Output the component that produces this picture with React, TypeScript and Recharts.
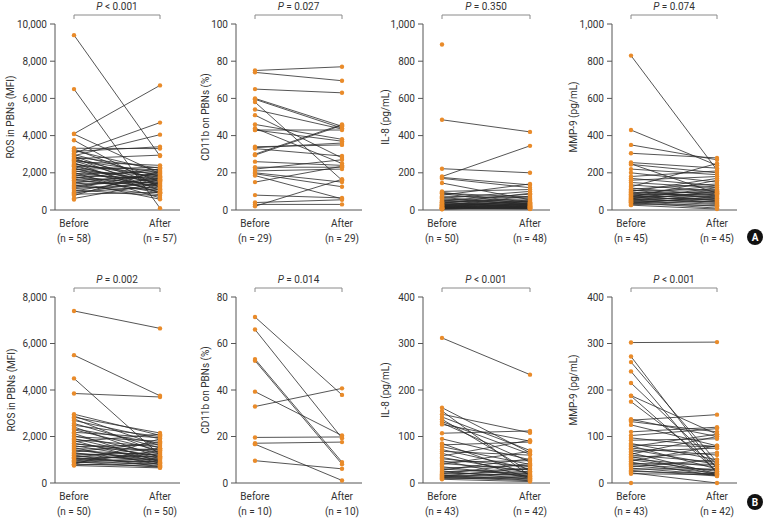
import React from 'react';
import { LineChart, Line, XAxis, YAxis } from 'recharts';

const CATEGORIES = ['Before', 'After'];

// Panel A: ROS
const rosBeforeA = [9400, 6500, 4100, 4080, 3750, 3320, 3280, 3200, 3150, 3050, 2980, 2920, 2880, 2850, 2800, 2760, 2720, 2680, 2640, 2600, 2540, 2480, 2450, 2400, 2350, 2320, 2260, 2200, 2180, 2120, 2080, 2020, 1980, 1930, 1900, 1850, 1800, 1760, 1700, 1660, 1600, 1560, 1500, 1450, 1400, 1340, 1300, 1250, 1200, 1150, 1080, 1020, 960, 900, 850, 780, 620, 560];
const rosAfterA = [2900, 100, 6700, 1950, 1200, 3300, 1500, 2100, 3400, 4700, 1800, 4050, 1350, 2250, 1050, 2950, 1650, 2000, 1300, 2400, 900, 1750, 1900, 1150, 2150, 1450, 950, 1600, 2300, 1250, 1850, 650, 1550, 2050, 1100, 1700, 900, 1400, 2200, 1000, 1800, 1300, 580, 1950, 1500, 820, 1650, 1100, 2000, 1400, 760, 1750, 1250, 1600, 950, 2100, 1450, null];

// Panel A: CD11b
const cd11bBeforeA = [75, 74, 65, 60, 59.5, 58, 54, 51, 46, 44, 43, 43, 34, 33.5, 33, 30, 29.5, 26, 23, 22, 21, 20, 19.5, 18.5, 15, 8, 4, 3, 2];
const cd11bAfterA = [77, 69.5, 63, 45, 44, 16, 43.5, 28, 38, 25, 43, 37, 35, 36, 29, 46, 45.5, 24, 23, 27, 22, 15, 12.5, 6, 23.5, 6.5, 5.5, 3, 16.5];

// Panel A: IL-8
const il8BeforeA = [890, 485, 222, 180, 175, 170, 145, 100, 95, 90, 88, 80, 74, 68, 63, 59, 54, 51, 49, 46, 42, 41, 37, 35, 33, 31, 29, 28, 25, 24, 23, 21, 20, 18, 17, 16, 15, 14, 13, 12, 11, 10, 9, 9, 8, 7, 6, 5, 5, 4];
const il8AfterA = [null, 420, 200, 345, 135, 120, 55, 110, 40, 70, 30, 140, 65, 25, 100, 45, 20, 85, 35, 60, 15, 50, 28, 90, 18, 42, 12, 33, 75, 22, 38, 10, 48, 16, 27, 8, 30, 14, 55, 20, 6, 24, 11, 36, 9, 18, 13, 5, null, 21];

// Panel A: MMP-9
const mmp9BeforeA = [830, 430, 350, 305, 255, 248, 245, 220, 200, 180, 170, 160, 148, 135, 125, 118, 112, 108, 104, 100, 96, 92, 88, 85, 82, 78, 75, 72, 70, 67, 64, 62, 60, 57, 55, 52, 50, 47, 45, 42, 40, 37, 34, 30, 26];
const mmp9AfterA = [215, 240, 270, 280, 225, 90, 200, 190, 150, 210, 130, 180, 120, 100, 250, 80, 140, 60, 110, 170, 70, 95, 50, 130, 85, 40, 105, 75, 160, 55, 90, 35, 120, 65, 45, 100, 30, 80, 20, 60, 10, 70, 50, 25, 5];

// Panel B: ROS
const rosBeforeB = [7400, 5500, 4500, 3850, 2960, 2880, 2830, 2760, 2690, 2560, 2480, 2410, 2330, 2290, 2180, 2130, 2030, 1990, 1910, 1870, 1820, 1770, 1710, 1680, 1610, 1560, 1520, 1470, 1430, 1390, 1330, 1300, 1270, 1210, 1190, 1160, 1110, 1090, 1050, 1040, 990, 980, 930, 910, 870, 860, 810, 800, 770, 750];
const rosAfterB = [6650, 3750, 1200, 3700, 2050, 1600, 2150, 1300, 1900, 1500, 2000, 1100, 1700, 1400, 1950, 900, 1250, 1800, 1050, 1550, 850, 2100, 1150, 1350, 1000, 1650, 780, 1450, 950, 1200, 1750, 880, 1100, 1300, 700, 1000, 1500, 820, 1150, 900, 1250, 760, 1050, 680, 950, 1400, 720, 1900, 860, 650];

// Panel B: CD11b
const cd11bBeforeB = [71.4, 66, 53.3, 52.6, 39.3, 32.9, 19.6, 17.1, 16.7, 9.6];
const cd11bAfterB = [37.9, 19.3, 9, 8.1, 20.4, 40.7, 19.8, 17.6, 1.1, 6.1];

// Panel B: IL-8
const il8BeforeB = [312, 162, 155, 148, 142, 137, 132, 129, 126, 107, 95, 85, 82, 78, 72, 68, 64, 58, 55, 52, 48, 45, 42, 40, 37, 35, 32, 30, 28, 26, 24, 22, 20, 19, 17, 16, 15, 14, 13, 12, 11, 10, 8];
const il8AfterB = [233, 65, 15, 108, 70, 25, 62, 45, 90, 112, 50, 18, 88, 40, 30, 60, 12, 92, 22, 35, 10, 48, 28, 68, null, 14, 38, 20, 52, 8, 30, 16, 42, 25, 6, 18, 32, 11, 22, 5, 14, 9, 3];

// Panel B: MMP-9
const mmp9BeforeB = [302, 272, 260, 240, 215, 188, 187, 175, 137, 135, 132, 125, 110, 102, 97, 92, 85, 82, 80, 78, 75, 72, 68, 65, 62, 60, 57, 55, 52, 50, 47, 45, 42, 40, 37, 35, 32, 30, 27, 25, 22, 20, 0];
const mmp9AfterB = [303, 30, 45, 20, 40, 105, 25, 35, 100, 147, 110, 80, 120, 117, 78, 95, 50, 78, 30, 105, 60, 40, 75, 20, 100, 45, 18, 65, 35, 25, 80, 15, 40, 28, 22, 50, 18, 30, 15, 20, 0, 18, null];

const ticksRos10k = [0, 2000, 4000, 6000, 8000, 10000];
const ticksPct100 = [0, 20, 40, 60, 80, 100];
const ticks1000 = [0, 200, 400, 600, 800, 1000];
const ticksRos8k = [0, 2000, 4000, 6000, 8000];
const ticksPct80 = [0, 20, 40, 60, 80];
const ticks400 = [0, 100, 200, 300, 400];

const ORANGE = '#E98B2A';
const AXIS = '#555';
const TEXT = '#333';

const panels = [
  { row: 0, before: rosBeforeA, after: rosAfterA, n: [58, 57], yLabel: 'ROS in PBNs (MFI)', ticks: ticksRos10k, p: '< 0.001', axisX: 55, endX: 180, labelX: 10 },
  { row: 0, before: cd11bBeforeA, after: cd11bAfterA, n: [29, 29], yLabel: 'CD11b on PBNs (%)', ticks: ticksPct100, p: '= 0.027', axisX: 236, endX: 362, labelX: 205 },
  { row: 0, before: il8BeforeA, after: il8AfterA, n: [50, 48], yLabel: 'IL-8 (pg/mL)', ticks: ticks1000, p: '= 0.350', axisX: 423, endX: 550, labelX: 385 },
  { row: 0, before: mmp9BeforeA, after: mmp9AfterA, n: [45, 45], yLabel: 'MMP-9 (pg/mL)', ticks: ticks1000, p: '= 0.074', axisX: 612, endX: 737, labelX: 573 },
  { row: 1, before: rosBeforeB, after: rosAfterB, n: [50, 50], yLabel: 'ROS in PBNs (MFI)', ticks: ticksRos8k, p: '= 0.002', axisX: 55, endX: 180, labelX: 11 },
  { row: 1, before: cd11bBeforeB, after: cd11bAfterB, n: [10, 10], yLabel: 'CD11b on PBNs (%)', ticks: ticksPct80, p: '= 0.014', axisX: 236, endX: 362, labelX: 205 },
  { row: 1, before: il8BeforeB, after: il8AfterB, n: [43, 42], yLabel: 'IL-8 (pg/mL)', ticks: ticks400, p: '< 0.001', axisX: 423, endX: 550, labelX: 385 },
  { row: 1, before: mmp9BeforeB, after: mmp9AfterB, n: [43, 42], yLabel: 'MMP-9 (pg/mL)', ticks: ticks400, p: '< 0.001', axisX: 612, endX: 737, labelX: 573 },
];

const ROW_TOP = [0, 273];
const PLOT_TOP = 24;
const CHART_H = 245;
const PAD_L = 19;
const PAD_R = 20;

function XTick({ x, y, payload, n }: any) {
  const idx = CATEGORIES.indexOf(payload.value);
  return (
    <g transform={`translate(${x},${y})`}>
      <text textAnchor="middle" y={16.5} fontSize={10} fill={TEXT}>{payload.value}</text>
      <text textAnchor="middle" y={31.5} fontSize={10} fill={TEXT}>{`(n = ${n[idx]})`}</text>
    </g>
  );
}

function Panel({ cfg }: any) {
  const data = CATEGORIES.map((cat, k) => {
    const row: any = { cat };
    cfg.before.forEach((v: number, i: number) => {
      row[`s${i}`] = k === 0 ? v : cfg.after[i];
    });
    return row;
  });
  const left = cfg.labelX - 6;
  const yW = cfg.axisX - left;
  const width = cfg.endX - left;
  const max = cfg.ticks[cfg.ticks.length - 1];
  return (
    <div style={{ position: 'absolute', left, top: ROW_TOP[cfg.row] }}>
      <LineChart width={width} height={CHART_H} data={data} margin={{ top: PLOT_TOP, right: 0, bottom: 0, left: 0 }}>
        <XAxis
          dataKey="cat"
          type="category"
          scale="point"
          padding={{ left: PAD_L, right: PAD_R }}
          tickLine={false}
          tickSize={0}
          tickMargin={0}
          interval={0}
          height={CHART_H - PLOT_TOP - 186}
          axisLine={{ stroke: AXIS }}
          tick={<XTick n={cfg.n} />}
        />
        <YAxis
          type="number"
          width={yW}
          domain={[0, max]}
          ticks={cfg.ticks}
          interval={0}
          tickSize={5}
          tickMargin={3}
          axisLine={{ stroke: AXIS }}
          tickLine={{ stroke: AXIS }}
          tick={{ fontSize: 10, fill: TEXT }}
          tickFormatter={(v: number) => v.toLocaleString('en-US')}
          label={{ value: cfg.yLabel, angle: -90, position: 'insideLeft', offset: 6, style: { textAnchor: 'middle', fontSize: 10, fill: TEXT } }}
        />
        {cfg.before.map((_: number, i: number) => (
          <Line
            key={i}
            dataKey={`s${i}`}
            stroke="#2a2a2a"
            strokeWidth={0.8}
            dot={{ r: 2.2, fill: ORANGE, stroke: ORANGE, strokeWidth: 0 }}
            activeDot={false}
            connectNulls={false}
            isAnimationActive={false}
          />
        ))}
      </LineChart>
    </div>
  );
}

export default function App() {
  return (
    <div style={{ position: 'absolute', left: 0, top: 0, width: 771, height: 519, background: '#fff', fontFamily: 'Roboto, sans-serif' }}>
      {panels.map((cfg, i) => <Panel key={i} cfg={cfg} />)}
      <svg width={771} height={519} style={{ position: 'absolute', left: 0, top: 0, pointerEvents: 'none' }}>
        {panels.map((cfg, i) => {
          const x1 = cfg.axisX + PAD_L;
          const x2 = cfg.endX - PAD_R;
          const by = ROW_TOP[cfg.row] + 15;
          return (
            <g key={i}>
              <path d={`M${x1},${by + 4}V${by}H${x2}V${by + 4}`} fill="none" stroke="#8a8a8a" strokeWidth={1} />
              <text x={(x1 + x2) / 2} y={by - 5.5} textAnchor="middle" fontSize={10} fill={TEXT}>
                <tspan fontStyle="italic">P</tspan>{` ${cfg.p}`}
              </text>
            </g>
          );
        })}
        <circle cx={755} cy={237} r={8} fill="#111" />
        <text x={755} y={240.5} textAnchor="middle" fontSize={10} fontWeight="bold" fill="#fff">A</text>
        <circle cx={755} cy={502} r={8} fill="#111" />
        <text x={755} y={505.5} textAnchor="middle" fontSize={10} fontWeight="bold" fill="#fff">B</text>
      </svg>
    </div>
  );
}
